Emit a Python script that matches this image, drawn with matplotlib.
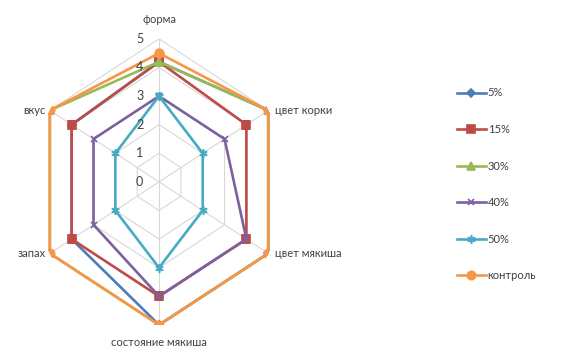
import numpy as np
import matplotlib.pyplot as plt
from matplotlib.lines import Line2D

# Sensory evaluation profile of bread samples
categories = ['форма', 'цвет корки', 'цвет мякиша', 'состояние мякиша', 'запах', 'вкус']
series_names = ['5%', '15%', '30%', '40%', '50%', 'контроль']
vals_5 = [4.2, 5, 5, 5, 4, 4]
vals_15 = [4.2, 4, 4, 4, 4, 4]
vals_30 = [4.2, 5, 5, 5, 5, 5]
vals_40 = [3, 3, 4, 4, 3, 3]
vals_50 = [3, 2, 2, 3, 2, 2]
vals_control = [4.5, 5, 5, 5, 5, 5]
r_ticks = [0, 1, 2, 3, 4, 5]

colors = ['#4a7ebb', '#be4b48', '#98b954', '#7d60a0', '#46aac5', '#f79646']
markers = ['D', 's', '^', 'x', (6, 2, 0), 'o']
msizes = [4, 5.5, 5.5, 5, 6, 6]

plt.rcParams['font.family'] = ['Lato', 'DejaVu Sans']

fig = plt.figure(figsize=(5.68, 3.52), dpi=100)
ax = fig.add_axes([0.058, 0.077, 0.444, 0.8125], projection='polar')
ax.set_aspect('auto')
ax.set_theta_zero_location('N')
ax.set_theta_direction(-1)
ax.set_ylim(0, 5)

n = len(categories)
angles = np.arange(n) * 2 * np.pi / n
closed = np.append(angles, angles[0])

# hexagonal grid and spokes
grid_c = '#d8d8d8'
for lev in r_ticks[1:]:
    ax.plot(closed, [lev] * (n + 1), color=grid_c, lw=0.8, zorder=1)
for a in angles:
    ax.plot([a, a], [0, r_ticks[-1]], color=grid_c, lw=0.8, zorder=1)
ax.grid(False)
ax.spines['polar'].set_visible(False)
ax.set_xticks([])
ax.set_yticks([])

all_vals = [vals_5, vals_15, vals_30, vals_40, vals_50, vals_control]
handles = []
for name, vals, c, m, ms in zip(series_names, all_vals, colors, markers, msizes):
    v = np.append(vals, vals[0])
    ax.plot(closed, v, color=c, lw=1.9, marker=m, ms=ms,
            markeredgecolor=c, markerfacecolor=c, mew=1.2, zorder=3)
    handles.append(Line2D([], [], color=c, lw=1.9, marker=m, ms=ms,
                          markeredgecolor=c, markerfacecolor=c, mew=1.2))

# value labels along the vertical axis
txt_c = '#404040'
for t in r_ticks:
    ax.annotate(str(t), xy=(0, t), xytext=(-14, 0), textcoords='offset points',
                ha='center', va='center', fontsize=9, color=txt_c, zorder=4)

# category labels around the chart
label_pos = [
    ((0, 14), 'center', 'center'),
    ((5, 0), 'left', 'center'),
    ((5, 0), 'left', 'center'),
    ((0, -13), 'center', 'center'),
    ((-3, 0), 'right', 'center'),
    ((-3, 0), 'right', 'center'),
]
for a, cat, (off, ha, va) in zip(angles, categories, label_pos):
    ax.annotate(cat, xy=(a, 5), xytext=off, textcoords='offset points',
                ha=ha, va=va, fontsize=8, color=txt_c, annotation_clip=False)

fig.legend(handles, series_names, loc='upper left', bbox_to_anchor=(0.787, 0.78),
           frameon=False, fontsize=8, labelspacing=2.3, handlelength=2.6,
           handletextpad=0.15, labelcolor=txt_c)

fig.savefig('out.png', dpi=100)
